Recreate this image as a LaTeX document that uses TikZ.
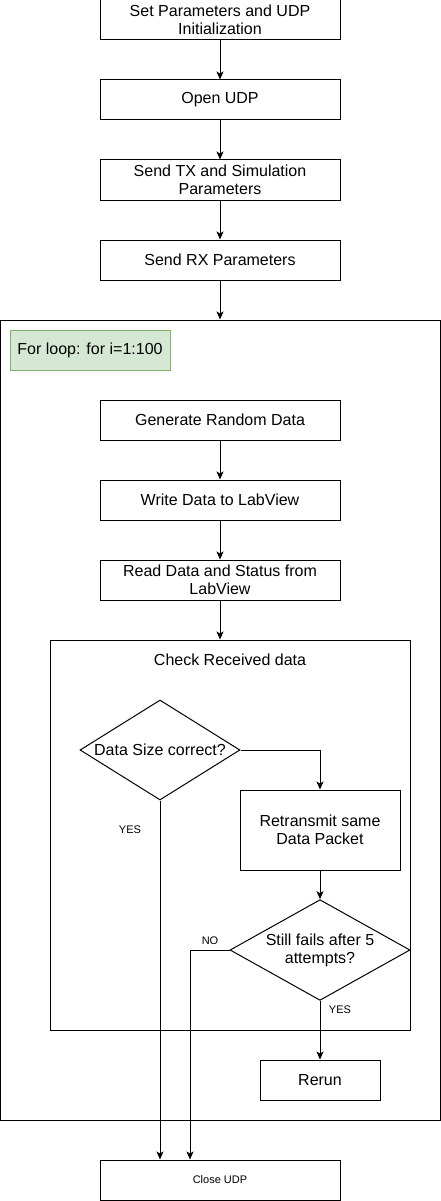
\documentclass[tikz,border=0pt]{standalone}
\usepackage{fontspec}
\setmainfont{Liberation Sans}
\usetikzlibrary{shapes.geometric,arrows.meta}
\definecolor{loopfill}{HTML}{D5E8D4}
\definecolor{loopdraw}{HTML}{82B366}
\tikzset{
  stepbox/.style={draw, line width=1pt, minimum width=240pt, minimum height=40pt, align=center, inner sep=0pt, font=\fontsize{16}{18}\selectfont},
  container/.style={draw, line width=1pt, inner sep=0pt},
  decision/.style={draw, line width=1pt, shape=diamond, aspect=1.6, inner sep=0pt, align=center, font=\fontsize{16}{18}\selectfont},
  maintext/.style={inner sep=0pt, font=\fontsize{16}{18}\selectfont},
  smalltext/.style={inner sep=0pt, font=\fontsize{11}{13}\selectfont},
  flow/.style={line width=1pt, -{Stealth[length=8pt,width=7pt,inset=2pt]}},
}
\begin{document}
\begin{tikzpicture}[x=1pt,y=-1pt]
\useasboundingbox (0,0) rectangle (441,1201);
% outer loop container
\node[container, minimum width=440pt, minimum height=800pt] (outer) at (220,720) {};
\node[draw=loopdraw, fill=loopfill, line width=1pt, minimum width=160pt, minimum height=40pt, inner sep=0pt, font=\fontsize{16}{18}\selectfont] (loop) at (90,350) {For loop: for i=1:100};
% inner check container
\node[container, minimum width=360pt, minimum height=390pt] (check) at (230,835) {};
\node[maintext] (checklbl) at (230,660) {Check Received data};
% steps
\node[stepbox] (init) at (220,20) {Set Parameters and UDP\\Initialization};
\node[stepbox] (open) at (220,100) {Open UDP};
\node[stepbox] (tx) at (220,180) {Send TX and Simulation\\Parameters};
\node[stepbox] (rx) at (220,260) {Send RX Parameters};
\node[stepbox] (gen) at (220,420) {Generate Random Data};
\node[stepbox] (write) at (220,500) {Write Data to LabView};
\node[stepbox] (read) at (220,580) {Read Data and Status from\\LabView};
\node[decision, minimum width=160pt, minimum height=100pt] (size) at (160,750) {Data Size correct?};
\node[stepbox, minimum width=160pt, minimum height=80pt] (retx) at (320,830) {Retransmit same\\Data Packet};
\node[decision, minimum width=180pt, minimum height=100pt] (fails) at (320,950) {Still fails after 5\\attempts?};
\node[stepbox, minimum width=120pt] (rerun) at (320,1080) {Rerun};
\node[stepbox, font=\fontsize{11}{13}\selectfont] (close) at (220,1180) {Close UDP};
% labels
\node[smalltext] (yes1) at (130,830) {YES};
\node[smalltext] (yes2) at (340,1010) {YES};
\node[smalltext] (no) at (210,941) {NO};
% connectors
\draw[flow] (init.south) -- (open.north);
\draw[flow] (open.south) -- (tx.north);
\draw[flow] (tx.south) -- (rx.north);
\draw[flow] (rx.south) -- (outer.north);
\draw[flow] (gen.south) -- (write.north);
\draw[flow] (write.south) -- (read.north);
\draw[flow] (read.south) -- (read.south |- check.north);
\draw[flow] (size.east) -| (retx.north);
\draw[flow] (retx.south) -- (fails.north);
\draw[flow] (fails.south) -- (rerun.north);
\draw[flow] (size.south) -- (size.south |- close.north);
\draw[flow] (fails.west) -| ([xshift=-30pt]close.north);
\end{tikzpicture}
\end{document}
